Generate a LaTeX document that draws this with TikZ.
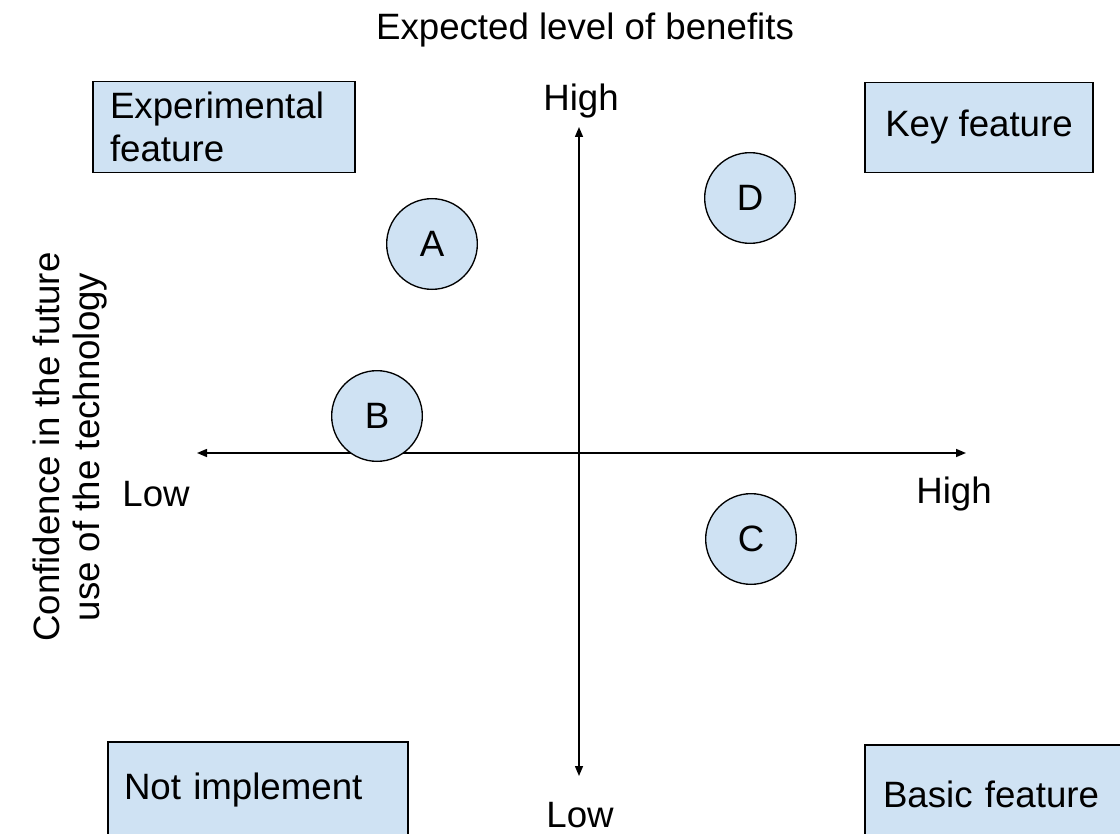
\documentclass[tikz,border=0pt]{standalone}
\usepackage{fontspec}
\setmainfont{Liberation Sans}
\usetikzlibrary{arrows.meta}
\definecolor{boxblue}{HTML}{CFE2F3}
\begin{document}
\begin{tikzpicture}[x=0.75pt,y=-0.75pt,
  every node/.style={font=\fontsize{27.5}{32}\selectfont, inner sep=0pt},
  quadbox/.style={draw=black, line width=1pt, fill=boxblue, align=left, inner xsep=#1},
  quadbox/.default=12.75pt,
  item/.style={circle, draw=black, line width=1pt, fill=boxblue, minimum size=68pt},
  axis/.style={line width=1.1pt, {Triangle[length=7.5pt,width=6pt]}-{Triangle[length=7.5pt,width=6pt]}},
  lbl/.style={}]
\useasboundingbox (0,0) rectangle (1120,834);
\clip (0,0) rectangle (1120,834);
% title
\node[lbl] (title) at (585,30) {Expected level of benefits};
% axes
\coordinate (xl) at (197,453);
\coordinate (xr) at (966,453);
\coordinate (yt) at (579,127);
\coordinate (yb) at (579,776);
\draw[axis] (xl) -- (xr);
\draw[axis] (yb) -- (yt);
% axis labels
\node[lbl] (hightop) at (581,101) {High};
\node[lbl] (lowleft) at (156,494) {Low};
\node[lbl] (highright) at (954,494) {High};
\node[lbl] (lowbottom) at (580,815) {Low};
% side label
\node[lbl, rotate=90, align=center, font=\fontsize{27.5}{30}\selectfont] (side) at (70,447)
  {Confidence in the future\\use of the technology};
% quadrant boxes
\node[quadbox, text width=171pt, minimum height=68.25pt, font=\fontsize{27.5}{32.5}\selectfont] (exp) at (224,127)
  {Experimental\\feature};
\node[quadbox, minimum width=171pt, minimum height=67.5pt, align=center] (key) at (979,127.5)
  {Key feature};
\node[quadbox=12pt, text width=201pt, minimum height=72pt] (notimp) at (258,790)
  {Not implement};
\node[quadbox=13.5pt, text width=175.5pt, minimum height=73.5pt] (basic) at (1000,794)
  {Basic feature};
% items
\node[item] (A) at (432,244) {A};
\node[item] (D) at (750,198) {D};
\node[item] (B) at (377,416) {B};
\node[item] (C) at (751,539) {C};
\end{tikzpicture}
\end{document}
